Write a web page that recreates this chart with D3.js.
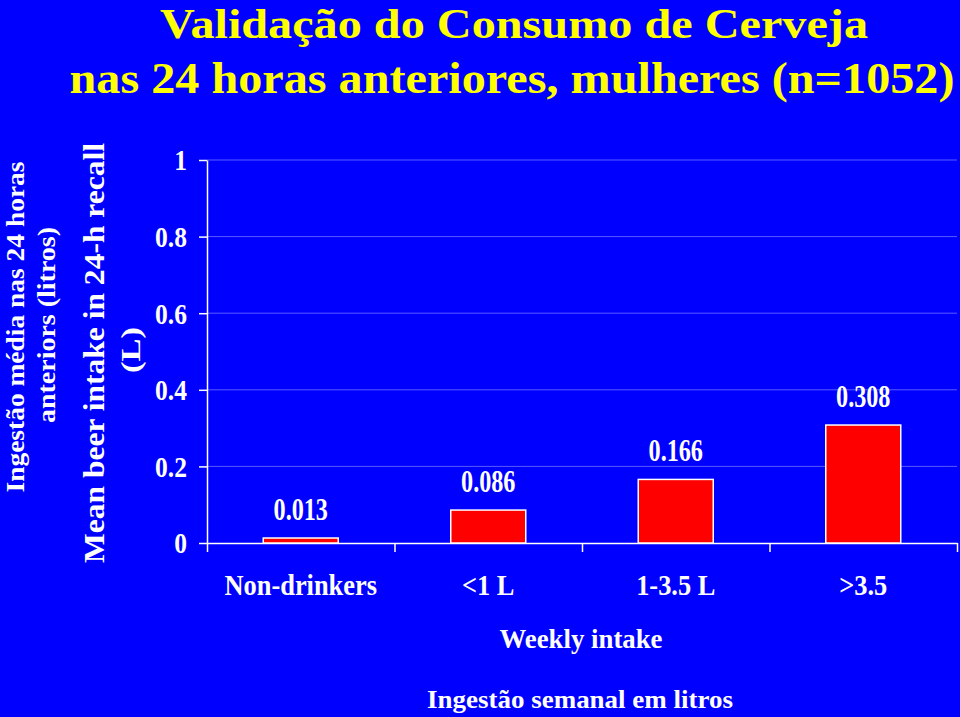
<!DOCTYPE html>
<html>
<head>
<meta charset="utf-8">
<script src="https://cdn.jsdelivr.net/npm/d3@7"></script>
<style>
  html, body { margin: 0; padding: 0; background: #0000ff; }
  svg { display: block; }
  text { font-family: "Liberation Serif", "Times New Roman", serif; }
</style>
</head>
<body>
<svg id="chart" width="960" height="717"></svg>
<script>
// ---- data ----
const categories = ["Non-drinkers", "<1 L", "1-3.5 L", ">3.5"];
const values = [0.013, 0.086, 0.166, 0.308];
const valueLabels = ["0.013", "0.086", "0.166", "0.308"];
const yTicks = [0, 0.2, 0.4, 0.6, 0.8, 1];
const yTickLabels = ["0", "0.2", "0.4", "0.6", "0.8", "1"];
const titleLines = ["Validação do Consumo de Cerveja", "nas 24 horas anteriores, mulheres (n=1052)"];
const yTitleEn = ["Mean beer intake in 24-h recall", "(L)"];
const yTitlePt = ["Ingestão média nas 24 horas", "anteriors (litros)"];
const xTitleEn = "Weekly intake";
const xTitlePt = "Ingestão semanal em litros";

// ---- layout ----
const svg = d3.select("#chart");
svg.append("rect").attr("width", 960).attr("height", 717).attr("fill", "#0000ff");

const plot = { left: 207, right: 957, top: 160, bottom: 543 };

const x = d3.scaleBand().domain(categories)
  .range([plot.left, plot.right]).paddingInner(0.6).paddingOuter(0.3);
const xEdges = d3.scaleLinear().domain([0, categories.length]).range([plot.left, plot.right]);
const y = d3.scaleLinear().domain([0, 1]).range([plot.bottom, plot.top]);

// condensed text helper
function condense(sel, factor) {
  sel.each(function () {
    const w = this.getComputedTextLength();
    d3.select(this).attr("textLength", w * factor).attr("lengthAdjust", "spacingAndGlyphs");
  });
}

// gridlines
svg.append("g").selectAll("line").data(yTicks.filter(d => d > 0)).join("line")
  .attr("x1", plot.left).attr("x2", plot.right)
  .attr("y1", d => y(d)).attr("y2", d => y(d))
  .attr("stroke", "#5a5aff").attr("stroke-width", 1);

// y axis
const yAxis = svg.append("g").attr("transform", `translate(${plot.left},0)`)
  .call(d3.axisLeft(y).tickValues(yTicks).tickSizeInner(8).tickSizeOuter(0)
    .tickFormat((d, i) => yTickLabels[i]));
yAxis.select(".domain").attr("stroke", "#fff").attr("stroke-width", 1.5);
yAxis.selectAll(".tick line").attr("stroke", "#fff").attr("stroke-width", 1.5);
yAxis.selectAll(".tick text").attr("fill", "#fff")
  .attr("font-family", "Liberation Serif, serif").attr("font-size", 29)
  .attr("font-weight", "bold")
  .attr("x", -20).attr("dy", "0.34em")
  .call(condense, 0.88);

// x axis (ticks at category boundaries)
const xAxis = svg.append("g").attr("transform", `translate(0,${plot.bottom})`)
  .call(d3.axisBottom(xEdges).tickValues(d3.range(categories.length + 1))
    .tickSizeInner(9).tickSizeOuter(0).tickFormat(""));
xAxis.select(".domain").attr("stroke", "#fff").attr("stroke-width", 1.5);
xAxis.selectAll(".tick line").attr("stroke", "#fff").attr("stroke-width", 1.5);

// bars
svg.append("g").selectAll("rect").data(values).join("rect")
  .attr("x", (d, i) => x(categories[i]))
  .attr("width", x.bandwidth())
  .attr("y", d => y(d))
  .attr("height", d => y(0) - y(d))
  .attr("fill", "#ff0000").attr("stroke", "#ffffff").attr("stroke-width", 1.5);

// value labels
svg.append("g").selectAll("text").data(values).join("text")
  .attr("x", (d, i) => x(categories[i]) + x.bandwidth() / 2)
  .attr("y", d => y(d) - 18)
  .attr("text-anchor", "middle").attr("fill", "#fff")
  .attr("font-size", 31).attr("font-weight", "bold")
  .text((d, i) => valueLabels[i])
  .call(condense, 0.78);

// category labels
svg.append("g").selectAll("text").data(categories).join("text")
  .attr("x", d => x(d) + x.bandwidth() / 2)
  .attr("y", 595)
  .attr("text-anchor", "middle").attr("fill", "#fff")
  .attr("font-size", 29).attr("font-weight", "bold")
  .text(d => d)
  .call(condense, 0.91);

// x titles
svg.append("text").attr("x", 581).attr("y", 648).attr("text-anchor", "middle")
  .attr("fill", "#fff").attr("font-size", 28).attr("font-weight", "bold").text(xTitleEn)
  .attr("textLength", 163).attr("lengthAdjust", "spacingAndGlyphs");
svg.append("text").attr("x", 580).attr("y", 708).attr("text-anchor", "middle")
  .attr("fill", "#fff").attr("font-size", 25).attr("font-weight", "bold").text(xTitlePt)
  .attr("textLength", 306).attr("lengthAdjust", "spacingAndGlyphs");

// y titles (rotated); bx = baseline x position
function vtext(bx, cy, str, size, len) {
  svg.append("text").attr("transform", `translate(${bx},${cy}) rotate(-90)`)
    .attr("text-anchor", "middle")
    .attr("fill", "#fff").attr("font-size", size).attr("font-weight", "bold")
    .attr("textLength", len).attr("lengthAdjust", "spacingAndGlyphs")
    .text(str);
}
vtext(104, 353, yTitleEn[0], 30, 420);
vtext(140, 350, yTitleEn[1], 28, 46);
vtext(24, 327, yTitlePt[0], 26, 331);
vtext(55, 325, yTitlePt[1], 26, 196);

// title
svg.append("text").attr("x", 514).attr("y", 38).attr("text-anchor", "middle")
  .attr("fill", "#ffff00").attr("font-size", 43).attr("font-weight", "bold")
  .attr("textLength", 708).attr("lengthAdjust", "spacingAndGlyphs")
  .text(titleLines[0]);
svg.append("text").attr("x", 512).attr("y", 93).attr("text-anchor", "middle")
  .attr("fill", "#ffff00").attr("font-size", 44).attr("font-weight", "bold")
  .attr("textLength", 885).attr("lengthAdjust", "spacingAndGlyphs")
  .text(titleLines[1]);
</script>
</body>
</html>
